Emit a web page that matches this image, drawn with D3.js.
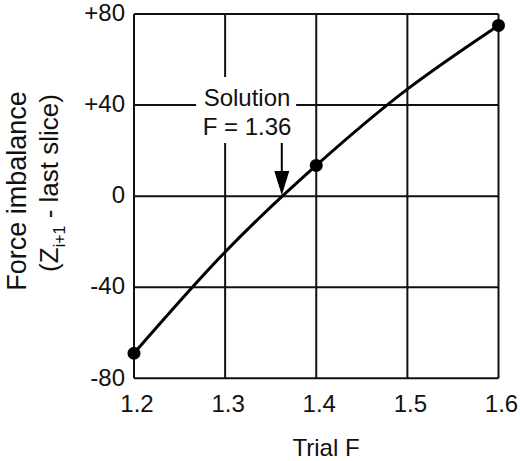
<!DOCTYPE html>
<html>
<head>
<meta charset="utf-8">
<script src="https://cdn.jsdelivr.net/npm/d3@7"></script>
<style>
  html, body { margin: 0; padding: 0; background: #fff; }
  svg { display: block; }
  text { font-family: "Liberation Sans", Arial, Helvetica, sans-serif; fill: #111; }
</style>
</head>
<body>
<svg id="chart" width="520" height="461"></svg>
<script>
// ---- data ----
const trialF = [1.2, 1.4, 1.6];
const imbalance = [-69, 13.5, 75];
const curveF = [1.2, 1.3, 1.4, 1.5, 1.6];
const curveImbalance = [-69, -24.5, 13.5, 47, 75];
const xTicks = [1.2, 1.3, 1.4, 1.5, 1.6];
const yTicks = [-80, -40, 0, 40, 80];
const yTickLabels = ["-80", "-40", "0", "+40", "+80"];
const solutionF = 1.36;
const solutionLines = ["Solution", "F = 1.36"];

const svg = d3.select("#chart");
const x = d3.scaleLinear().domain([1.2, 1.6]).range([134, 498.5]);
const y = d3.scaleLinear().domain([-80, 80]).range([378.3, 14]);

// grid
const grid = svg.append("g").attr("stroke", "#111").attr("stroke-width", 2);
grid.selectAll("line.v").data(xTicks).join("line")
  .attr("x1", d => x(d)).attr("x2", d => x(d))
  .attr("y1", y(80)).attr("y2", y(-80));
grid.selectAll("line.h").data(yTicks).join("line")
  .attr("y1", d => y(d)).attr("y2", d => y(d))
  .attr("x1", x(1.2)).attr("x2", x(1.6));

// white background behind annotation text
svg.append("rect")
  .attr("x", x(1.3) - 29).attr("y", 77)
  .attr("width", 100).attr("height", 66)
  .attr("fill", "#fff");

// tick labels
svg.append("g").selectAll("text").data(yTicks).join("text")
  .attr("x", 125).attr("y", d => y(d)).attr("dy", "0.3em")
  .attr("text-anchor", "end").attr("font-size", 24)
  .text((d, i) => yTickLabels[i]);
svg.append("g").selectAll("text").data(xTicks).join("text")
  .attr("x", d => x(d) + 3).attr("y", 412)
  .attr("text-anchor", "middle").attr("font-size", 24)
  .text(d => d.toFixed(1));

// axis titles
svg.append("text").attr("x", 326).attr("y", 456)
  .attr("text-anchor", "middle").attr("font-size", 24).text("Trial F");

const yt = svg.append("text").attr("transform", "translate(26,191) rotate(-90)")
  .attr("text-anchor", "middle").attr("font-size", 27);
yt.text("Force imbalance");

const yt2 = svg.append("text").attr("transform", "translate(58,183) rotate(-90)")
  .attr("text-anchor", "middle").attr("font-size", 26);
yt2.append("tspan").text("(Z");
yt2.append("tspan").attr("font-size", 16).attr("dy", 7).text("i+1");
yt2.append("tspan").attr("dy", -7).text(" - last slice)");

// curve
const pts = curveF.map((f, i) => [f, curveImbalance[i]]);
svg.append("path").datum(pts)
  .attr("fill", "none").attr("stroke", "#000").attr("stroke-width", 3)
  .attr("d", d3.line().x(d => x(d[0])).y(d => y(d[1])).curve(d3.curveNatural));

// points
svg.append("g").selectAll("circle").data(trialF).join("circle")
  .attr("cx", d => x(d)).attr("cy", (d, i) => y(imbalance[i]))
  .attr("r", 6.5).attr("fill", "#000");

// annotation
const ax = x(solutionF) + 2;
svg.append("g").selectAll("text").data(solutionLines).join("text")
  .attr("x", 247).attr("y", (d, i) => 106 + i * 29)
  .attr("text-anchor", "middle").attr("font-size", 24)
  .text(d => d);
svg.append("line").attr("x1", ax).attr("x2", ax)
  .attr("y1", 143).attr("y2", 172)
  .attr("stroke", "#000").attr("stroke-width", 2);
svg.append("path")
  .attr("d", `M${ax - 7.5},171 L${ax + 7.5},171 L${ax},${y(0) - 1} Z`)
  .attr("fill", "#000");
</script>
</body>
</html>
